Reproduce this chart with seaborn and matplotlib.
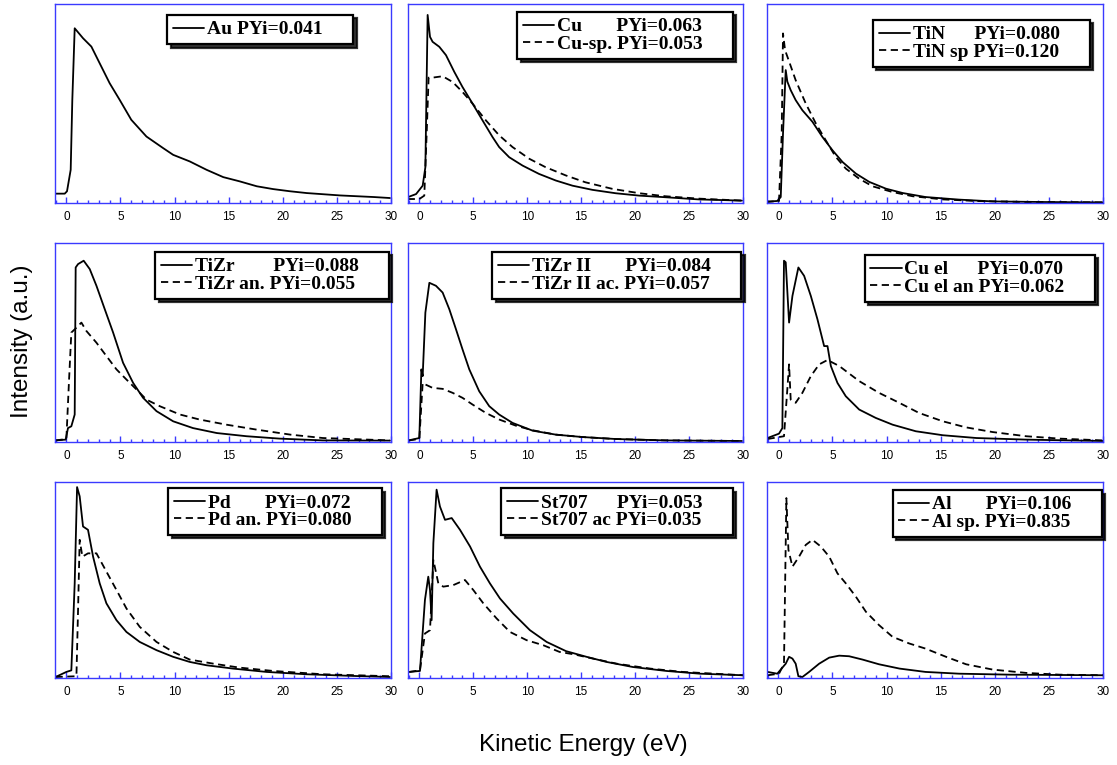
import numpy as np
import pandas as pd
import matplotlib
matplotlib.use("Agg")
import matplotlib.pyplot as plt
import seaborn as sns
from matplotlib.ticker import MultipleLocator

sns.set_style("white")
plt.rcParams['font.family'] = ['Liberation Sans', 'DejaVu Sans']
plt.rcParams['text.color'] = 'black'
plt.rcParams['xtick.labelcolor'] = 'black'

# ---------------- data (intensity in a.u., energy in eV) ----------------
AU_E = [-1.0, -0.15, 0.06, 0.4, 0.55, 0.77, 1.54, 2.31, 3.08, 4.0, 4.93, 6.0, 7.4, 8.94, 9.87,
        11.4, 12.95, 14.5, 16.0, 17.6, 19.1, 20.66, 22.2, 25.3, 28.4, 29.9]
AU_I = [0.047, 0.047, 0.059, 0.167, 0.518, 0.878, 0.828, 0.786, 0.702, 0.602, 0.518, 0.418, 0.334,
        0.276, 0.242, 0.209, 0.167, 0.130, 0.109, 0.084, 0.070, 0.059, 0.050, 0.038, 0.030, 0.025]

CU_E = [-1.08, -0.3, 0.31, 0.56, 0.77, 0.99, 1.23, 1.85, 2.47, 3.24, 4.0, 4.94, 5.86, 6.79, 7.4,
        8.33, 9.57, 11.1, 12.65, 14.2, 16.05, 18.2, 20.4, 22.8, 25.9, 29.9]
CU_I = [0.029, 0.045, 0.087, 0.18, 0.945, 0.835, 0.81, 0.785, 0.743, 0.659, 0.583, 0.499, 0.415,
        0.331, 0.281, 0.230, 0.188, 0.146, 0.113, 0.087, 0.066, 0.049, 0.037, 0.029, 0.018, 0.012]
CUSP_E = [-1.08, 0.0, 0.46, 0.68, 0.86, 1.23, 2.16, 3.09, 4.0, 4.94, 6.17, 7.4, 8.64, 10.2, 11.7,
          13.6, 15.4, 17.9, 20.4, 22.8, 25.9, 29.9]
CUSP_I = [0.02, 0.02, 0.037, 0.348, 0.63, 0.63, 0.637, 0.608, 0.558, 0.499, 0.415, 0.34, 0.281,
          0.222, 0.18, 0.138, 0.104, 0.071, 0.049, 0.034, 0.022, 0.012]

TIN_E = [-1.1, -0.1, 0.22, 0.43, 0.68, 0.83, 1.14, 1.6, 2.22, 3.15, 4.07, 5.0, 5.93, 7.16, 8.4,
         9.94, 11.5, 13.6, 16.7, 19.8, 24.4, 30.0]
TIN_I = [0.007, 0.01, 0.03, 0.35, 0.668, 0.61, 0.567, 0.517, 0.466, 0.408, 0.332, 0.265, 0.206,
         0.148, 0.106, 0.072, 0.05, 0.03, 0.017, 0.008, 0.005, 0.003]
TINSP_E = [-1.1, 0.06, 0.31, 0.43, 0.62, 1.0, 1.6, 2.53, 3.46, 4.38, 5.3, 6.23, 7.47, 8.7, 10.55,
           12.4, 15.2, 18.3, 22.9, 30.0]
TINSP_I = [0.005, 0.01, 0.35, 0.852, 0.768, 0.71, 0.617, 0.5, 0.4, 0.315, 0.232, 0.173, 0.122,
           0.084, 0.055, 0.034, 0.018, 0.01, 0.005, 0.003]

TIZR_E = [-1.0, -0.06, 0.15, 0.46, 0.77, 0.86, 1.08, 1.6, 2.16, 2.78, 3.55, 4.32, 5.24, 6.17, 7.09,
          8.33, 9.87, 11.7, 13.9, 16.65, 19.7, 23.7, 29.9]
TIZR_I = [0.008, 0.012, 0.07, 0.079, 0.138, 0.877, 0.894, 0.911, 0.869, 0.785, 0.667, 0.55, 0.398,
          0.297, 0.222, 0.155, 0.104, 0.07, 0.045, 0.029, 0.017, 0.008, 0.007]
TIZRAN_E = [-1.0, 0.0, 0.25, 0.46, 0.77, 1.39, 1.85, 2.78, 3.7, 4.63, 5.55, 6.48, 7.4, 8.63, 10.5,
            12.3, 14.8, 17.6, 20.7, 23.7, 29.9]
TIZRAN_I = [0.008, 0.015, 0.314, 0.55, 0.566, 0.6, 0.558, 0.499, 0.432, 0.365, 0.314, 0.264, 0.213,
            0.18, 0.138, 0.113, 0.087, 0.062, 0.037, 0.02, 0.008]

TIZR2_E = [-1.0, 0.0, 0.19, 0.31, 0.56, 0.93, 1.54, 2.16, 2.78, 3.4, 4.0, 4.63, 5.55, 6.48, 7.4,
           8.64, 10.5, 12.65, 15.1, 18.2, 22.8, 29.9]
TIZR2_I = [0.008, 0.02, 0.365, 0.331, 0.65, 0.8, 0.785, 0.751, 0.667, 0.566, 0.466, 0.365, 0.255,
           0.18, 0.138, 0.096, 0.057, 0.037, 0.025, 0.015, 0.008, 0.005]
TIZR2AC_E = [-1.0, 0.0, 0.31, 0.56, 1.23, 2.16, 3.09, 4.0, 4.94, 6.17, 7.4, 8.95, 10.5, 12.65,
             15.1, 18.2, 22.8, 29.9]
TIZR2AC_I = [0.008, 0.015, 0.297, 0.289, 0.272, 0.267, 0.247, 0.222, 0.188, 0.146, 0.113, 0.082,
             0.059, 0.037, 0.025, 0.015, 0.008, 0.005]

CUEL_E = [-1.0, 0.06, 0.37, 0.52, 0.68, 0.99, 1.3, 1.85, 2.38, 3.0, 3.61, 4.23, 4.54, 4.85, 5.46,
          6.23, 7.47, 9.0, 10.56, 12.7, 15.2, 18.3, 22.9, 30.0]
CUEL_I = [0.02, 0.042, 0.07, 0.911, 0.903, 0.6, 0.734, 0.877, 0.835, 0.734, 0.617, 0.482, 0.482,
          0.382, 0.297, 0.23, 0.163, 0.121, 0.087, 0.054, 0.034, 0.02, 0.012, 0.005]
CUELAN_E = [-1.0, 0.52, 0.74, 0.99, 1.14, 1.6, 2.22, 3.0, 3.77, 4.54, 5.62, 7.47, 9.3, 11.17, 13.0,
            15.2, 17.3, 19.8, 22.9, 26.0, 30.0]
CUELAN_I = [0.015, 0.029, 0.197, 0.39, 0.213, 0.197, 0.247, 0.331, 0.39, 0.412, 0.382, 0.306, 0.247,
            0.197, 0.146, 0.104, 0.074, 0.05, 0.029, 0.017, 0.008]

PD_E = [-1.0, 0.0, 0.46, 0.77, 0.99, 1.23, 1.54, 2.0, 2.47, 3.08, 3.7, 4.63, 5.55, 6.78, 8.33, 9.87,
        11.4, 12.95, 15.4, 18.5, 22.2, 26.8, 29.9]
PD_I = [0.005, 0.031, 0.039, 0.483, 0.974, 0.927, 0.773, 0.756, 0.619, 0.483, 0.381, 0.295, 0.235,
        0.184, 0.142, 0.108, 0.082, 0.065, 0.048, 0.031, 0.019, 0.01, 0.005]
PDAN_E = [-1.0, 0.93, 1.08, 1.23, 1.48, 2.0, 2.78, 3.7, 4.63, 5.55, 6.78, 8.33, 9.87, 11.4, 13.6,
          16.0, 19.1, 23.7, 29.9]
PDAN_I = [0.005, 0.009, 0.346, 0.705, 0.619, 0.636, 0.636, 0.543, 0.449, 0.355, 0.261, 0.184, 0.133,
          0.094, 0.073, 0.053, 0.036, 0.019, 0.009]

ST_E = [-0.93, 0.06, 0.52, 0.83, 0.99, 1.14, 1.3, 1.6, 1.91, 2.38, 3.0, 3.77, 4.7, 5.62, 6.54, 7.47,
        8.7, 10.25, 11.8, 13.6, 15.5, 17.35, 19.8, 22.9, 26.0, 30.0]
ST_I = [0.031, 0.036, 0.398, 0.517, 0.449, 0.295, 0.688, 0.961, 0.875, 0.807, 0.816, 0.756, 0.671,
        0.568, 0.483, 0.406, 0.329, 0.244, 0.184, 0.137, 0.108, 0.082, 0.056, 0.036, 0.022, 0.014]
STAC_E = [-0.93, 0.06, 0.52, 0.99, 1.3, 1.76, 2.22, 3.15, 4.23, 5.0, 5.93, 7.16, 8.4, 9.94, 11.5,
          13.0, 14.3, 16.1, 18.3, 21.4, 24.4, 30.0]
STAC_I = [0.031, 0.039, 0.227, 0.244, 0.602, 0.483, 0.466, 0.474, 0.5, 0.449, 0.381, 0.304, 0.235,
          0.193, 0.167, 0.133, 0.121, 0.099, 0.073, 0.048, 0.031, 0.014]

AL_E = [-1.0, -0.1, 0.68, 0.99, 1.3, 1.6, 1.85, 2.22, 2.84, 3.77, 4.7, 5.62, 6.54, 7.78, 9.3, 11.2,
        13.6, 16.7, 21.4, 30.0]
AL_I = [0.031, 0.022, 0.073, 0.108, 0.099, 0.073, 0.009, 0.005, 0.031, 0.073, 0.104, 0.114, 0.111,
        0.094, 0.07, 0.048, 0.031, 0.022, 0.017, 0.014]
ALSP_E = [-1.0, 0.06, 0.52, 0.74, 0.93, 1.3, 1.91, 2.53, 3.15, 3.92, 4.7, 5.46, 6.23, 7.16, 8.09,
          9.3, 10.55, 12.1, 13.6, 15.5, 17.35, 19.8, 22.9, 26.0, 30.0]
ALSP_I = [0.014, 0.022, 0.073, 0.918, 0.654, 0.568, 0.619, 0.679, 0.705, 0.671, 0.619, 0.534, 0.483,
          0.415, 0.338, 0.27, 0.21, 0.176, 0.15, 0.108, 0.07, 0.043, 0.026, 0.017, 0.014]

PANELS = [
    [("Au PYi=0.041", AU_E, AU_I)],
    [("Cu       PYi=0.063", CU_E, CU_I), ("Cu-sp. PYi=0.053", CUSP_E, CUSP_I)],
    [("TiN      PYi=0.080", TIN_E, TIN_I), ("TiN sp PYi=0.120", TINSP_E, TINSP_I)],
    [("TiZr        PYi=0.088", TIZR_E, TIZR_I), ("TiZr an. PYi=0.055", TIZRAN_E, TIZRAN_I)],
    [("TiZr II       PYi=0.084", TIZR2_E, TIZR2_I), ("TiZr II ac. PYi=0.057", TIZR2AC_E, TIZR2AC_I)],
    [("Cu el      PYi=0.070", CUEL_E, CUEL_I), ("Cu el an PYi=0.062", CUELAN_E, CUELAN_I)],
    [("Pd       PYi=0.072", PD_E, PD_I), ("Pd an. PYi=0.080", PDAN_E, PDAN_I)],
    [("St707      PYi=0.053", ST_E, ST_I), ("St707 ac PYi=0.035", STAC_E, STAC_I)],
    [("Al       PYi=0.106", AL_E, AL_I), ("Al sp. PYi=0.835", ALSP_E, ALSP_I)],
]
LEGEND_ANCHORS = [(0.887, 0.945), (0.970, 0.960), (0.961, 0.92),
                  (0.994, 0.955), (0.995, 0.955), (0.976, 0.94),
                  (0.973, 0.969), (0.970, 0.969), (0.997, 0.959)]
X_TICKS = [0, 5, 10, 15, 20, 25, 30]

# ---------------- layout ----------------
W, H = 1117, 765
fig = plt.figure(figsize=(W / 100, H / 100), dpi=100)
col_left = [55, 408, 767]
col_w = [336, 335, 336]
row_top = [4, 243, 482]
row_h = [199, 199, 196]
BLUE = "#3a3aff"
PAD = "     "  # extra room at the right of each legend entry, as in the original boxes

for idx, series in enumerate(PANELS):
    r, c = divmod(idx, 3)
    ax = fig.add_axes([col_left[c] / W, 1 - (row_top[r] + row_h[r]) / H, col_w[c] / W, row_h[r] / H])
    for k, (lab, e, it) in enumerate(series):
        df = pd.DataFrame({"E": e, "I": it})
        sns.lineplot(data=df, x="E", y="I", ax=ax, color="black", lw=1.3,
                     estimator=None, sort=False, label=lab + PAD,
                     linestyle="-" if k == 0 else (0, (4, 2.5)))
    ax.set_xlim(-1.05, 30)
    ax.set_ylim(0, 1)
    ax.set_xticks(X_TICKS)
    ax.xaxis.set_minor_locator(MultipleLocator(1))
    ax.set_yticks([])
    ax.set_xlabel("")
    ax.set_ylabel("")
    for s in ax.spines.values():
        s.set_color(BLUE)
        s.set_linewidth(1.0)
        s.set_visible(True)
    ax.tick_params(axis="x", which="major", direction="in", length=4, width=1, color=BLUE,
                   labelcolor="black", labelsize=8.5, pad=6, bottom=True, top=False)
    ax.tick_params(axis="x", which="minor", direction="in", length=2.2, width=1, color=BLUE,
                   bottom=True, top=False)
    leg = ax.legend(loc="upper right", bbox_to_anchor=LEGEND_ANCHORS[idx], borderaxespad=0,
                    prop=dict(family="Liberation Serif", weight="bold", size=14),
                    handlelength=1.6, handletextpad=0.15, labelspacing=0.0, borderpad=0.3,
                    fancybox=False, framealpha=1, edgecolor="black",
                    shadow={"ox": 2.5, "oy": -2.5, "color": "black", "alpha": 0.8})
    leg.get_frame().set_linewidth(1.6)
    for t in leg.get_texts():
        t.set_color("black")
    for h in leg.get_lines():
        h.set_linewidth(1.3)

fig.text(22 / W, 1 - 341 / H, "Intensity (a.u.)", rotation=90, ha="center", va="center",
         fontsize=17.5, color="black")
fig.text(583 / W, 1 - 745 / H, "Kinetic Energy (eV)", ha="center", va="center",
         fontsize=17.5, color="black")

fig.savefig("out.png", dpi=100)
